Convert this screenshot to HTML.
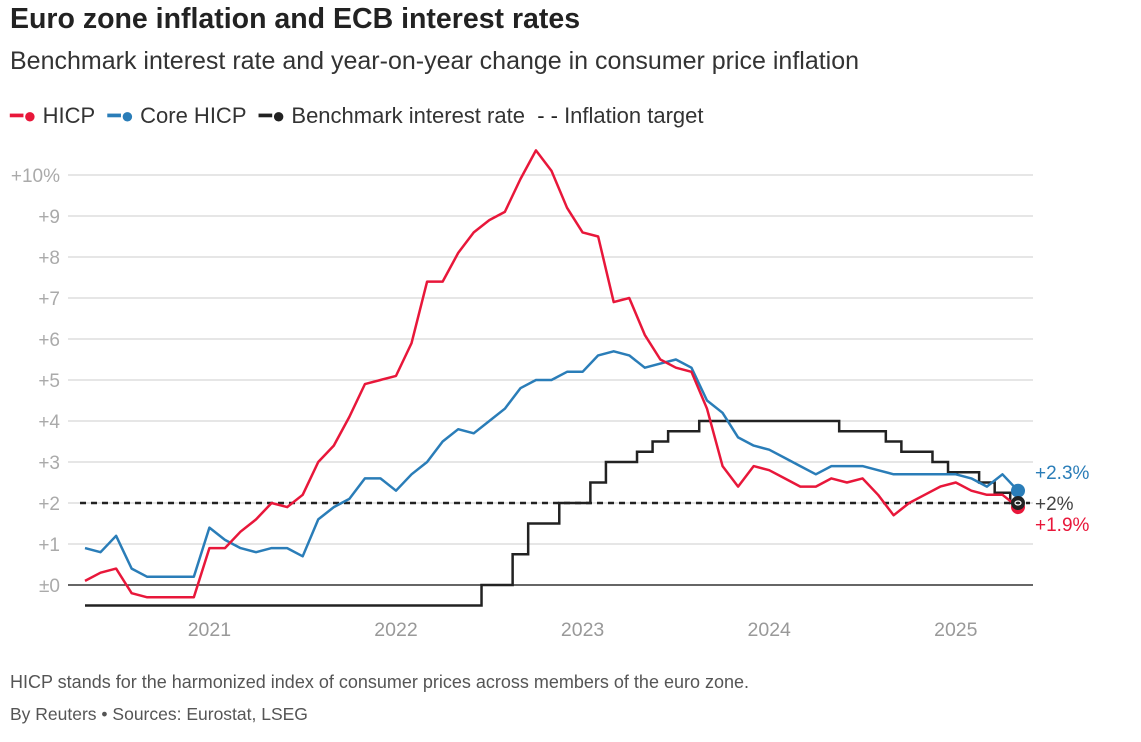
<!DOCTYPE html>
<html><head><meta charset="utf-8"><style>
body{margin:0;background:#fff;width:1141px;height:742px;overflow:hidden;font-family:"Liberation Sans",sans-serif}
.t{position:absolute;white-space:nowrap}
</style></head><body>
<div class="t" style="left:10px;top:3px;font-size:28.5px;font-weight:bold;color:#222">Euro zone inflation and ECB interest rates</div>
<div class="t" style="left:10px;top:47px;font-size:25px;color:#333">Benchmark interest rate and year-on-year change in consumer price inflation</div>
<div class="t" style="left:10px;top:103px;font-size:22px;color:#333">
<span><span style="color:#e8173a">━●</span> HICP</span>&nbsp;
<span><span style="color:#2a7db8">━●</span> Core HICP</span>&nbsp;
<span><span style="color:#222">━●</span> Benchmark interest rate</span>&nbsp;
<span><span style="color:#222">- -</span> Inflation target</span>
</div>
<svg id="c" width="1141" height="742" style="position:absolute;left:0;top:0"></svg>
<div class="t" style="left:10px;top:672px;font-size:18px;color:#555">HICP stands for the harmonized index of consumer prices across members of the euro zone.</div>
<div class="t" style="left:10px;top:704px;font-size:17.5px;color:#555">By Reuters • Sources: Eurostat, LSEG</div>
<script>
const hicp=[0.1,0.3,0.4,-0.2,-0.3,-0.3,-0.3,-0.3,0.9,0.9,1.3,1.6,2.0,1.9,2.2,3.0,3.4,4.1,4.9,5.0,5.1,5.9,7.4,7.4,8.1,8.6,8.9,9.1,9.9,10.6,10.1,9.2,8.6,8.5,6.9,7.0,6.1,5.5,5.3,5.2,4.3,2.9,2.4,2.9,2.8,2.6,2.4,2.4,2.6,2.5,2.6,2.2,1.7,2.0,2.2,2.4,2.5,2.3,2.2,2.2,1.9];
const core=[0.9,0.8,1.2,0.4,0.2,0.2,0.2,0.2,1.4,1.1,0.9,0.8,0.9,0.9,0.7,1.6,1.9,2.1,2.6,2.6,2.3,2.7,3.0,3.5,3.8,3.7,4.0,4.3,4.8,5.0,5.0,5.2,5.2,5.6,5.7,5.6,5.3,5.4,5.5,5.3,4.5,4.2,3.6,3.4,3.3,3.1,2.9,2.7,2.9,2.9,2.9,2.8,2.7,2.7,2.7,2.7,2.7,2.6,2.4,2.7,2.3];
const rate=[-0.5,-0.5,-0.5,-0.5,-0.5,-0.5,-0.5,-0.5,-0.5,-0.5,-0.5,-0.5,-0.5,-0.5,-0.5,-0.5,-0.5,-0.5,-0.5,-0.5,-0.5,-0.5,-0.5,-0.5,-0.5,-0.5,0,0,0.75,1.5,1.5,2.0,2.0,2.5,3.0,3.0,3.25,3.5,3.75,3.75,4,4,4,4,4,4,4,4,4,3.75,3.75,3.75,3.5,3.25,3.25,3.0,2.75,2.75,2.5,2.25,2.0];
const target=2;
const yTicks=[0,1,2,3,4,5,6,7,8,9,10];
const yTickLabels=["±0","+1","+2","+3","+4","+5","+6","+7","+8","+9","+10%"];
const years=["2021","2022","2023","2024","2025"];
const yearIndex=[8,20,32,44,56];
const svg=document.getElementById('c');
const NS='http://www.w3.org/2000/svg';
const x=i=>85+i*(1018-85)/60;
const y=v=>585-v*41;
function mk(t,a){const e=document.createElementNS(NS,t);for(const k in a)e.setAttribute(k,a[k]);svg.appendChild(e);return e;}
yTicks.forEach((v,k)=>{
 const g=mk('line',{x1:68,x2:1033,y1:y(v),y2:y(v),stroke:v===0?'#333':'#ccc','stroke-width':v===0?1.5:1});
 
 
 const t=mk('text',{x:60,y:y(v)+7,'text-anchor':'end','font-size':19,fill:'#aaa','font-family':'Liberation Sans'});
 t.textContent=yTickLabels[k];
 
 
});
years.forEach((s,k)=>{
 const t=mk('text',{x:x(yearIndex[k]),y:636,'text-anchor':'middle','font-size':19.5,fill:'#999','font-family':'Liberation Sans'});
 t.textContent=s;
 
 
});
const tl=mk('line',{x1:80,x2:1030,y1:y(target),y2:y(target),stroke:'#222','stroke-width':2.5,'stroke-dasharray':'6,5'});


let d='M'+x(0)+','+y(rate[0]);
for(let i=1;i<rate.length;i++){const xm=x(i-0.5);d+=' H'+xm+' V'+y(rate[i]);}
d+=' H'+x(rate.length-1);
const rl=mk('path',{d:d,fill:'none',stroke:'#222','stroke-width':2.5});


function line(arr,col,name){
 const p=mk('path',{d:arr.map((v,i)=>(i?'L':'M')+x(i)+','+y(v)).join(' '),fill:'none',stroke:col,'stroke-width':2.5,'stroke-linejoin':'round'});
 
 
}
line(core,'#2a7db8','core-hicp-line');
line(hicp,'#e8173a','hicp-line');
const L=hicp.length-1;
const d1=mk('circle',{cx:x(L),cy:y(hicp[L]),r:7,fill:'#e8173a'});


const d2=mk('circle',{cx:x(L),cy:y(core[L]),r:7,fill:'#2a7db8'});


const d3=mk('circle',{cx:x(L),cy:y(rate[L]),r:7,fill:'#222'});


mk('ellipse',{cx:x(L),cy:y(rate[L]),rx:3,ry:2,fill:'none',stroke:'#fff','stroke-width':1.2});
[[core[L],'+2.3%','#2a7db8',-24],[rate[L],'+2%','#444',7],[hicp[L],'+1.9%','#e8173a',28]].forEach(a=>{
 const t=mk('text',{x:1035,y:y(rate[L])+a[3],'font-size':19,fill:a[2],'font-family':'Liberation Sans'});
 t.textContent=a[1];
 
 
});
</script>
</body></html>
